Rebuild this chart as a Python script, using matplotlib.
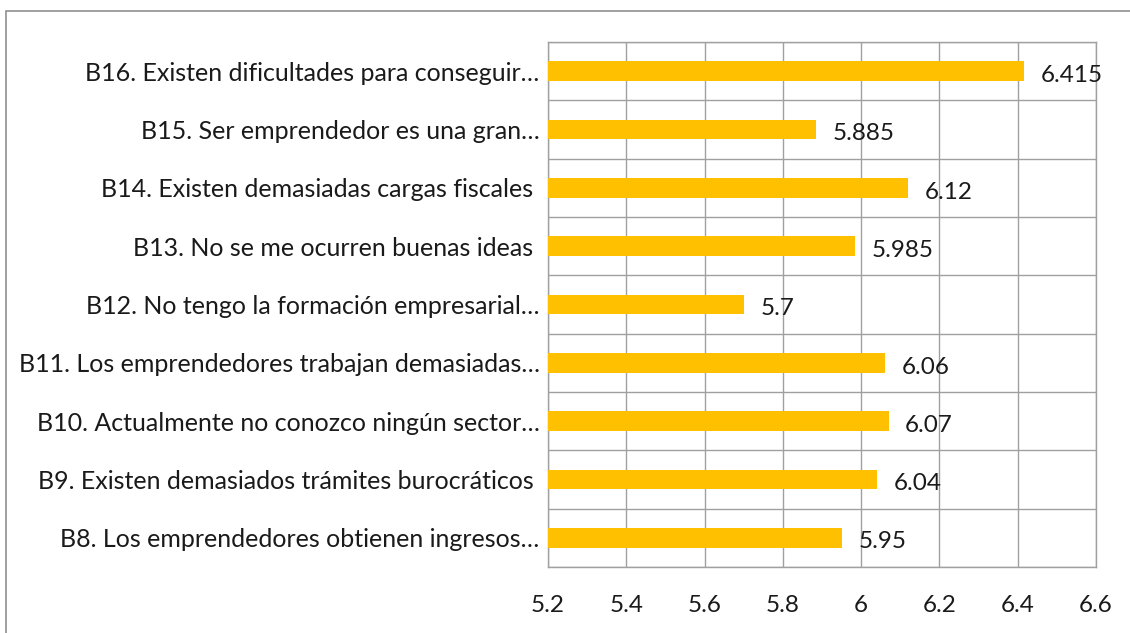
import matplotlib.pyplot as plt
from matplotlib.patches import Rectangle

categories = [
    "B8. Los emprendedores obtienen ingresos…",
    "B9. Existen demasiados trámites burocráticos ",
    "B10. Actualmente no conozco ningún sector…",
    "B11. Los emprendedores trabajan demasiadas…",
    "B12. No tengo la formación empresarial…",
    "B13. No se me ocurren buenas ideas ",
    "B14. Existen demasiadas cargas fiscales ",
    "B15. Ser emprendedor es una gran…",
    "B16. Existen dificultades para conseguir…",
]
values = [5.95, 6.04, 6.07, 6.06, 5.7, 5.985, 6.12, 5.885, 6.415]
value_labels = ["5.95", "6.04", "6.07", "6.06", "5.7", "5.985", "6.12", "5.885", "6.415"]
xticks = [5.2, 5.4, 5.6, 5.8, 6.0, 6.2, 6.4, 6.6]
xtick_labels = ["5.2", "5.4", "5.6", "5.8", "6", "6.2", "6.4", "6.6"]

plt.rcParams["font.family"] = ["Lato", "DejaVu Sans"]
grid_col = "#a0a0a0"
txt_col = "#1a1a1a"

fig = plt.figure(figsize=(11.3, 6.33), dpi=100)
fig.patches.append(Rectangle((6 / 1130, -0.1), 1.2, 1.1 - 11 / 633, transform=fig.transFigure,
                             fill=False, edgecolor="#909090", linewidth=1.2))
ax = fig.add_axes([548 / 1130, 1 - 567 / 633, 548 / 1130, 525 / 633])

ypos = list(range(len(categories)))
ax.barh(ypos, [v - 5.2 for v in values], left=5.2, height=0.34, color="#ffc000", zorder=3)
for y, v, s in zip(ypos, values, value_labels):
    ax.annotate(s, (v, y), xytext=(12, -3), textcoords="offset points", va="center", ha="left",
                fontsize=17.5, color=txt_col, zorder=4)

ax.set_xlim(5.2, 6.6)
ax.set_ylim(-0.5, len(categories) - 0.5)
ax.set_xticks(xticks)
ax.set_xticklabels(xtick_labels, fontsize=17.5, color=txt_col)
ax.set_yticks(ypos)
ax.set_yticklabels(categories, fontsize=18, color=txt_col)
ax.set_yticks([i - 0.5 for i in range(len(categories) + 1)], minor=True)
ax.tick_params(axis="both", which="both", length=0)
ax.tick_params(axis="x", pad=20)
ax.tick_params(axis="y", pad=6)
ax.grid(True, axis="x", which="major", color=grid_col, linewidth=1, zorder=0)
ax.grid(True, axis="y", which="minor", color=grid_col, linewidth=1, zorder=0)
for sp in ax.spines.values():
    sp.set_color(grid_col)
    sp.set_linewidth(1)

fig.savefig("out.png", dpi=100)
